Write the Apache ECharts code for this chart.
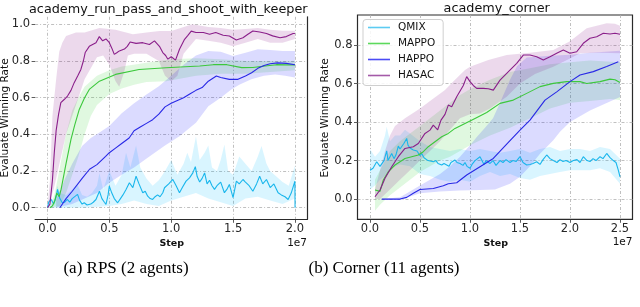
<!DOCTYPE html>
<html><head><meta charset="utf-8">
<script src="https://cdn.jsdelivr.net/npm/echarts@6/dist/echarts.min.js"></script>
<style>html,body{margin:0;padding:0;background:#fff}#c{width:640px;height:307px}</style>
</head><body><div id="c"></div>
<script>
// ---------- labels / ticks ----------
const seriesNames = ['QMIX', 'MAPPO', 'HAPPO', 'HASAC'];
const titleRps = 'academy_run_pass_and_shoot_with_keeper';
const titleCorner = 'academy_corner';
const captionRps = '(a) RPS (2 agents)';
const captionCorner = '(b) Corner (11 agents)';
const xTicksRps = [0, 0.5, 1, 1.5, 2];
const yTicksRps = [0, 0.2, 0.4, 0.6, 0.8, 1.0];
const xTicksCorner = [0, 0.5, 1, 1.5, 2, 2.5];
const yTicksCorner = [0, 0.2, 0.4, 0.6, 0.8];

// ---------- RPS (x in units of 1e7 steps) ----------
const rpsQmixMean = [[0,0],[0.01,0.03],[0.03,0.045],[0.05,0.02],[0.07,0.06],[0.081,0.1],[0.09,0.09],[0.1,0.05],[0.12,0.027],[0.14,0.03],[0.16,0.045],[0.18,0.03],[0.2,0.05],[0.216,0.055],[0.243,0.073],[0.26,0.04],[0.28,0.02],[0.297,0.027],[0.32,0.015],[0.35,0.02],[0.37,0.03],[0.392,0.045],[0.42,0.09],[0.44,0.05],[0.46,0.03],[0.473,0.018],[0.49,0.07],[0.5,0.118],[0.52,0.08],[0.54,0.05],[0.567,0.027],[0.59,0.05],[0.61,0.07],[0.635,0.1],[0.662,0.136],[0.69,0.11],[0.716,0.172],[0.74,0.13],[0.77,0.082],[0.79,0.09],[0.81,0.063],[0.83,0.05],[0.85,0.045],[0.87,0.06],[0.89,0.07],[0.91,0.06],[0.932,0.082],[0.946,0.109],[0.96,0.11],[0.98,0.13],[1.013,0.154],[1.04,0.12],[1.067,0.082],[1.09,0.11],[1.12,0.145],[1.148,0.163],[1.175,0.19],[1.195,0.224],[1.21,0.17],[1.23,0.14],[1.25,0.16],[1.27,0.19],[1.29,0.13],[1.31,0.15],[1.33,0.12],[1.35,0.1],[1.37,0.12],[1.4,0.14],[1.43,0.082],[1.45,0.1],[1.47,0.127],[1.5,0.055],[1.527,0.145],[1.55,0.13],[1.58,0.154],[1.6,0.14],[1.63,0.12],[1.66,0.09],[1.69,0.13],[1.715,0.172],[1.74,0.13],[1.77,0.154],[1.8,0.11],[1.83,0.13],[1.864,0.082],[1.89,0.07],[1.92,0.06],[1.945,0.045],[1.97,0.08],[2.0,0.145],[2.001,0.0]];
const rpsQmixUpper = [[0,0],[0.02,0.06],[0.05,0.04],[0.08,0.12],[0.1,0.08],[0.15,0.07],[0.2,0.1],[0.24,0.13],[0.28,0.07],[0.32,0.06],[0.36,0.08],[0.4,0.12],[0.42,0.19],[0.45,0.1],[0.5,0.2],[0.55,0.12],[0.6,0.18],[0.635,0.3],[0.67,0.22],[0.716,0.34],[0.75,0.22],[0.8,0.16],[0.85,0.12],[0.9,0.15],[0.95,0.2],[1.0,0.26],[1.05,0.18],[1.1,0.24],[1.13,0.3],[1.16,0.25],[1.2,0.39],[1.23,0.26],[1.27,0.3],[1.3,0.34],[1.33,0.22],[1.37,0.2],[1.4,0.26],[1.43,0.345],[1.46,0.2],[1.5,0.18],[1.55,0.28],[1.6,0.24],[1.65,0.2],[1.7,0.28],[1.73,0.336],[1.77,0.24],[1.8,0.2],[1.85,0.17],[1.9,0.14],[1.95,0.12],[2.0,0.23]];
const rpsQmixLower = [[0,0],[0.1,0],[0.3,0],[0.5,0.01],[0.6,0.02],[0.7,0.04],[0.8,0.02],[0.9,0.01],[1.0,0.04],[1.1,0.06],[1.2,0.08],[1.3,0.05],[1.4,0.03],[1.5,0.01],[1.6,0.05],[1.7,0.06],[1.8,0.04],[1.9,0.02],[2.0,0.05]];

const rpsMappoMean = [[0.02,0],[0.04,0.01],[0.06,0.04],[0.075,0.08],[0.085,0.09],[0.095,0.06],[0.11,0.1],[0.15,0.24],[0.19,0.373],[0.22,0.45],[0.257,0.536],[0.3,0.6],[0.338,0.645],[0.42,0.69],[0.55,0.727],[0.74,0.754],[0.96,0.763],[1.23,0.773],[1.34,0.78],[1.45,0.78],[1.57,0.764],[1.66,0.765],[1.76,0.773],[1.85,0.78],[2.0,0.778]];
const rpsMappoUpper = [[0.02,0],[0.06,0.08],[0.1,0.22],[0.15,0.4],[0.2,0.53],[0.25,0.6],[0.3,0.66],[0.4,0.72],[0.5,0.75],[0.6,0.77],[0.8,0.79],[1.0,0.81],[1.2,0.815],[1.4,0.81],[1.6,0.8],[1.8,0.8],[2.0,0.8]];
const rpsMappoLower = [[0.02,0],[0.1,0.01],[0.15,0.08],[0.2,0.18],[0.25,0.28],[0.3,0.4],[0.35,0.5],[0.4,0.56],[0.5,0.62],[0.6,0.65],[0.7,0.67],[0.8,0.685],[0.96,0.69],[1.2,0.72],[1.4,0.73],[1.6,0.73],[1.8,0.74],[2.0,0.75]];

const rpsHappoMean = [[0.1,0],[0.15,0.05],[0.2,0.09],[0.28,0.16],[0.34,0.21],[0.4,0.235],[0.47,0.28],[0.5,0.3],[0.55,0.325],[0.6,0.35],[0.66,0.38],[0.7,0.42],[0.75,0.44],[0.8,0.46],[0.85,0.48],[0.9,0.51],[0.95,0.55],[1.0,0.57],[1.05,0.585],[1.1,0.6],[1.15,0.62],[1.2,0.64],[1.25,0.655],[1.3,0.69],[1.365,0.718],[1.4,0.71],[1.47,0.7],[1.54,0.7],[1.6,0.718],[1.65,0.736],[1.7,0.76],[1.75,0.775],[1.8,0.785],[1.86,0.79],[1.93,0.787],[2.0,0.78]];
const rpsHappoUpper = [[0.07,0.045],[0.15,0.17],[0.2,0.24],[0.28,0.336],[0.35,0.38],[0.42,0.41],[0.5,0.445],[0.6,0.515],[0.7,0.57],[0.8,0.618],[0.9,0.663],[1.0,0.72],[1.1,0.78],[1.2,0.83],[1.3,0.855],[1.4,0.85],[1.5,0.827],[1.6,0.845],[1.7,0.864],[1.8,0.86],[1.9,0.855],[2.0,0.855]];
const rpsHappoLower = [[0.07,0],[0.2,0.02],[0.3,0.05],[0.4,0.08],[0.5,0.136],[0.6,0.18],[0.7,0.22],[0.824,0.28],[0.95,0.34],[1.067,0.39],[1.2,0.464],[1.3,0.554],[1.4,0.6],[1.486,0.645],[1.55,0.67],[1.648,0.7],[1.75,0.72],[1.84,0.727],[1.92,0.72],[2.0,0.71]];

const rpsHasacMean = [[0,0],[0.02,0.02],[0.04,0.15],[0.055,0.3],[0.07,0.42],[0.09,0.51],[0.108,0.573],[0.135,0.59],[0.162,0.609],[0.19,0.64],[0.216,0.682],[0.245,0.72],[0.27,0.754],[0.29,0.8],[0.305,0.846],[0.338,0.88],[0.365,0.89],[0.392,0.9],[0.419,0.933],[0.446,0.91],[0.473,0.92],[0.5,0.9],[0.52,0.87],[0.54,0.836],[0.56,0.845],[0.581,0.855],[0.622,0.865],[0.645,0.88],[0.668,0.904],[0.716,0.896],[0.77,0.9],[0.824,0.89],[0.865,0.91],[0.905,0.88],[0.932,0.846],[0.955,0.83],[0.973,0.81],[1.0,0.823],[1.035,0.805],[1.067,0.864],[1.108,0.918],[1.135,0.94],[1.162,0.963],[1.2,0.955],[1.26,0.955],[1.31,0.946],[1.36,0.955],[1.42,0.94],[1.47,0.936],[1.526,0.915],[1.58,0.927],[1.62,0.946],[1.66,0.964],[1.715,0.958],[1.77,0.95],[1.82,0.937],[1.88,0.927],[1.93,0.933],[1.985,0.95],[2.0,0.95]];
const rpsHasacUpper = [[0,0],[0.02,0.15],[0.04,0.5],[0.07,0.7],[0.095,0.85],[0.12,0.9],[0.15,0.936],[0.23,0.955],[0.3,0.955],[0.42,0.98],[0.55,0.97],[0.69,0.946],[0.8,0.955],[0.905,0.964],[1.0,0.964],[1.12,0.99],[1.17,1.0],[1.3,0.985],[1.4,0.98],[1.5,0.97],[1.6,0.975],[1.7,0.98],[1.8,0.97],[1.9,0.965],[2.0,0.965]];
const rpsHasacLower = [[0,0],[0.05,0.1],[0.1,0.25],[0.15,0.4],[0.2,0.5],[0.25,0.6],[0.3,0.7],[0.35,0.76],[0.4,0.82],[0.45,0.83],[0.5,0.78],[0.55,0.69],[0.58,0.66],[0.62,0.74],[0.65,0.83],[0.7,0.84],[0.8,0.84],[0.9,0.8],[0.95,0.72],[1.0,0.69],[1.05,0.72],[1.1,0.84],[1.2,0.92],[1.3,0.91],[1.4,0.9],[1.5,0.88],[1.6,0.9],[1.7,0.92],[1.8,0.9],[1.9,0.9],[2.0,0.92]];

// ---------- Corner ----------
const cornerQmixMean = [[0,0.15],[0.03,0.16],[0.067,0.194],[0.083,0.185],[0.1,0.17],[0.117,0.16],[0.14,0.2],[0.167,0.25],[0.18,0.2],[0.2,0.22],[0.217,0.237],[0.24,0.21],[0.26,0.23],[0.283,0.275],[0.3,0.26],[0.317,0.27],[0.34,0.29],[0.367,0.315],[0.38,0.28],[0.4,0.265],[0.42,0.275],[0.433,0.255],[0.45,0.245],[0.47,0.25],[0.5,0.225],[0.517,0.237],[0.54,0.215],[0.56,0.21],[0.58,0.2],[0.6,0.205],[0.633,0.194],[0.66,0.2],[0.68,0.185],[0.7,0.19],[0.717,0.177],[0.74,0.185],[0.767,0.177],[0.79,0.17],[0.81,0.19],[0.83,0.2],[0.85,0.203],[0.87,0.19],[0.9,0.185],[0.93,0.175],[0.95,0.19],[0.97,0.17],[1.0,0.16],[1.02,0.18],[1.05,0.2],[1.07,0.19],[1.1,0.22],[1.117,0.211],[1.14,0.18],[1.16,0.2],[1.2,0.185],[1.23,0.2],[1.26,0.175],[1.3,0.2],[1.33,0.19],[1.36,0.205],[1.4,0.19],[1.43,0.2],[1.46,0.195],[1.5,0.22],[1.53,0.19],[1.567,0.177],[1.6,0.18],[1.63,0.185],[1.667,0.194],[1.7,0.18],[1.73,0.205],[1.767,0.229],[1.8,0.21],[1.833,0.2],[1.87,0.19],[1.9,0.205],[1.93,0.195],[1.96,0.2],[2.0,0.19],[2.033,0.2],[2.07,0.205],[2.1,0.19],[2.133,0.22],[2.17,0.2],[2.2,0.195],[2.23,0.21],[2.26,0.2],[2.3,0.22],[2.33,0.21],[2.367,0.237],[2.4,0.215],[2.433,0.2],[2.46,0.19],[2.483,0.15],[2.5,0.116]];
const cornerQmixUpper = [[0,0.26],[0.05,0.22],[0.1,0.25],[0.15,0.33],[0.167,0.375],[0.2,0.3],[0.25,0.33],[0.3,0.33],[0.35,0.36],[0.4,0.34],[0.5,0.3],[0.6,0.27],[0.7,0.26],[0.8,0.25],[0.9,0.26],[1.0,0.25],[1.1,0.26],[1.2,0.25],[1.3,0.24],[1.4,0.25],[1.5,0.26],[1.6,0.24],[1.7,0.26],[1.8,0.27],[1.9,0.25],[2.0,0.26],[2.1,0.26],[2.2,0.25],[2.3,0.27],[2.4,0.26],[2.5,0.21]];
const cornerQmixLower = [[0,0.05],[0.05,0.07],[0.1,0.1],[0.15,0.12],[0.2,0.16],[0.3,0.18],[0.4,0.17],[0.5,0.13],[0.6,0.12],[0.7,0.1],[0.8,0.09],[0.9,0.1],[1.0,0.09],[1.1,0.12],[1.2,0.14],[1.3,0.12],[1.4,0.13],[1.5,0.11],[1.6,0.1],[1.7,0.12],[1.8,0.13],[1.9,0.14],[2.0,0.15],[2.1,0.15],[2.2,0.15],[2.3,0.16],[2.4,0.14],[2.5,0.08]];

const cornerMappoMean = [[0.05,0.047],[0.1,0.04],[0.133,0.099],[0.183,0.142],[0.25,0.177],[0.35,0.211],[0.417,0.22],[0.483,0.229],[0.533,0.246],[0.583,0.272],[0.65,0.298],[0.717,0.324],[0.783,0.341],[0.85,0.367],[0.95,0.393],[1.05,0.419],[1.167,0.45],[1.3,0.497],[1.433,0.514],[1.567,0.549],[1.7,0.584],[1.833,0.601],[1.967,0.61],[2.1,0.61],[2.167,0.6],[2.3,0.61],[2.4,0.623],[2.45,0.62],[2.5,0.605]];
const cornerMappoUpper = [[0.05,0.1],[0.1,0.15],[0.2,0.25],[0.3,0.3],[0.4,0.34],[0.5,0.38],[0.6,0.42],[0.7,0.46],[0.8,0.5],[0.9,0.54],[1.0,0.57],[1.2,0.62],[1.4,0.66],[1.6,0.68],[1.8,0.7],[2.0,0.71],[2.2,0.72],[2.5,0.71]];
const cornerMappoLower = [[0.05,-0.06],[0.1,-0.03],[0.2,0.02],[0.3,0.06],[0.4,0.1],[0.5,0.14],[0.6,0.17],[0.7,0.2],[0.8,0.22],[0.9,0.25],[1.0,0.28],[1.2,0.33],[1.4,0.37],[1.6,0.42],[1.8,0.47],[2.0,0.5],[2.2,0.51],[2.4,0.52],[2.5,0.514]];

const cornerHappoMean = [[0.117,0],[0.3,0],[0.367,0.009],[0.433,0.03],[0.5,0.05],[0.633,0.055],[0.733,0.069],[0.783,0.08],[0.867,0.085],[0.967,0.125],[1.1,0.168],[1.233,0.211],[1.367,0.286],[1.5,0.358],[1.6,0.41],[1.75,0.514],[1.867,0.557],[2.0,0.61],[2.1,0.644],[2.233,0.662],[2.367,0.688],[2.483,0.713]];
const cornerHappoUpper = [[0.117,0],[0.3,0.01],[0.5,0.07],[0.7,0.13],[0.8,0.17],[0.9,0.22],[1.0,0.28],[1.07,0.324],[1.15,0.37],[1.23,0.42],[1.3,0.5],[1.4,0.62],[1.47,0.69],[1.567,0.735],[1.8,0.745],[2.0,0.75],[2.2,0.76],[2.5,0.77]];
const cornerHappoLower = [[0.117,0],[0.3,-0.005],[0.5,0.03],[0.7,0.04],[0.9,0.045],[1.1,0.047],[1.25,0.05],[1.4,0.08],[1.5,0.116],[1.6,0.17],[1.7,0.235],[1.833,0.306],[1.9,0.35],[2.0,0.4],[2.2,0.46],[2.5,0.53]];

const cornerHasacMean = [[0.05,0.012],[0.1,0.047],[0.15,0.108],[0.217,0.168],[0.283,0.22],[0.35,0.263],[0.433,0.272],[0.483,0.289],[0.55,0.341],[0.6,0.358],[0.633,0.384],[0.677,0.36],[0.71,0.41],[0.75,0.44],[0.783,0.488],[0.817,0.48],[0.867,0.531],[0.933,0.59],[0.967,0.636],[1.0,0.61],[1.033,0.59],[1.067,0.575],[1.133,0.575],[1.183,0.573],[1.233,0.566],[1.3,0.618],[1.367,0.653],[1.467,0.705],[1.533,0.748],[1.6,0.748],[1.667,0.739],[1.733,0.722],[1.8,0.739],[1.867,0.757],[1.933,0.774],[2.0,0.757],[2.067,0.765],[2.133,0.809],[2.2,0.835],[2.267,0.843],[2.333,0.861],[2.4,0.857],[2.45,0.861],[2.5,0.856]];
const cornerHasacUpper = [[0.05,0.05],[0.1,0.15],[0.15,0.25],[0.2,0.33],[0.25,0.38],[0.35,0.42],[0.5,0.47],[0.6,0.51],[0.75,0.566],[0.85,0.62],[0.95,0.67],[1.0,0.687],[1.183,0.722],[1.367,0.748],[1.6,0.76],[1.833,0.774],[2.0,0.82],[2.167,0.887],[2.367,0.913],[2.45,0.91],[2.5,0.9]];
const cornerHasacLower = [[0.05,0],[0.1,0],[0.2,0.05],[0.3,0.1],[0.4,0.15],[0.5,0.2],[0.6,0.25],[0.7,0.3],[0.8,0.36],[0.9,0.42],[1.0,0.44],[1.1,0.445],[1.2,0.47],[1.367,0.531],[1.5,0.6],[1.65,0.65],[1.833,0.687],[2.0,0.73],[2.1,0.757],[2.3,0.76],[2.5,0.757]];

// ---------- styling ----------
const lineColors = {QMIX:'#19b6ec', MAPPO:'#3cc83c', HAPPO:'#2828e6', HASAC:'#8a1f8a'};
const legendColors = {QMIX:'#5ccbf2', MAPPO:'#5cd95c', HAPPO:'#4b4bf5', HASAC:'#a45aa8'};
const bandColors = {QMIX:'rgba(0,191,255,0.15)', MAPPO:'rgba(50,205,50,0.15)', HAPPO:'rgba(0,0,255,0.14)', HASAC:'rgba(128,0,128,0.15)'};
const FONT = 'DejaVu Sans';

function band(name, xi, yi, upper, lower) {
  return {
    type: 'custom', xAxisIndex: xi, yAxisIndex: yi, silent: true, z: 1,
    data: [0],
    renderItem: function (params, api) {
      const pts = [];
      for (let i = 0; i < upper.length; i++) pts.push(api.coord(upper[i]));
      for (let i = lower.length - 1; i >= 0; i--) pts.push(api.coord(lower[i]));
      return {type: 'polygon', shape: {points: pts}, style: {fill: bandColors[name], stroke: null}};
    }
  };
}
function line(name, xi, yi, data) {
  return {
    name: name, type: 'line', xAxisIndex: xi, yAxisIndex: yi, data: data,
    showSymbol: false, symbol: 'none', z: 3, clip: false,
    lineStyle: {color: lineColors[name], width: 1.1},
    itemStyle: {color: lineColors[name]}
  };
}
const fmt = v => Number(v).toFixed(1);
const splitStyle = {show: true, lineStyle: {color: '#b0b0b0', width: 0.8, type: [3, 2, 1, 2]}};
function xAx(gi, min, max, ticks, showLine) {
  return {
    type: 'value', gridIndex: gi, min: min, max: max,
    axisLine: {show: showLine, onZero: false, lineStyle: {color: '#2a2a2a', width: 1.2}},
    axisTick: {show: true, customValues: ticks, length: 3.5, lineStyle: {color: '#333', width: 0.8}},
    axisLabel: {customValues: ticks, formatter: fmt, fontFamily: FONT, fontSize: 11.5, color: '#262626', margin: 4},
    splitLine: splitStyle
  };
}
function yAx(gi, min, max, ticks) {
  return {
    type: 'value', gridIndex: gi, min: min, max: max,
    axisLine: {show: false, onZero: false},
    axisTick: {show: true, customValues: ticks, length: 3.5, lineStyle: {color: '#333', width: 0.8}},
    axisLabel: {customValues: ticks, formatter: fmt, fontFamily: FONT, fontSize: 11.5, color: '#262626', margin: 5},
    splitLine: splitStyle
  };
}
function txt(x, y, text, size, opts) {
  return Object.assign({type: 'text', x: x, y: y, style: Object.assign({
    text: text, fontFamily: FONT, fontSize: size, fill: '#111', align: 'center', verticalAlign: 'middle'
  }, (opts && opts.style) || {})}, (opts && opts.extra) || {});
}

const chart = echarts.init(document.getElementById('c'), null, {renderer: 'canvas'});
const option = {
  animation: false,
  backgroundColor: '#fff',
  grid: [
    {left: 35.1, top: 16.8, width: 272.2, height: 202.5},
    {left: 357.5, top: 15, width: 275, height: 204.3, show: true, borderColor: '#2a2a2a', borderWidth: 1.2, backgroundColor: 'transparent'}
  ],
  xAxis: [
    xAx(0, -0.1, 2.1, xTicksRps, true),
    xAx(1, -0.125, 2.625, xTicksCorner, false)
  ],
  yAxis: [
    yAx(0, -0.063, 1.041, yTicksRps),
    yAx(1, -0.105, 0.956, yTicksCorner),
    {type: 'value', gridIndex: 0, position: 'right', min: -0.063, max: 1.041,
     axisLine: {show: true, onZero: false, lineStyle: {color: '#2a2a2a', width: 1.2}},
     axisTick: {show: false}, axisLabel: {show: false}, splitLine: {show: false}}
  ],
  legend: {
    data: seriesNames.map(n => ({name: n, itemStyle: {color: legendColors[n]}})),
    orient: 'vertical', left: 363, top: 19.5,
    icon: 'rect', itemWidth: 22, itemHeight: 1.6, itemGap: 0,
    textStyle: {fontFamily: FONT, fontSize: 10.5, color: '#111', lineHeight: 16, padding: [0, 0, 0, 3]},
    backgroundColor: 'rgba(255,255,255,0.85)', borderColor: '#cfcfcf', borderWidth: 1, borderRadius: 3,
    padding: [0, 8, 2, 5], selectedMode: false
  },
  series: [
    band('QMIX', 0, 0, rpsQmixUpper, rpsQmixLower),
    band('MAPPO', 0, 0, rpsMappoUpper, rpsMappoLower),
    band('HAPPO', 0, 0, rpsHappoUpper, rpsHappoLower),
    band('HASAC', 0, 0, rpsHasacUpper, rpsHasacLower),
    line('QMIX', 0, 0, rpsQmixMean),
    line('MAPPO', 0, 0, rpsMappoMean),
    line('HAPPO', 0, 0, rpsHappoMean),
    line('HASAC', 0, 0, rpsHasacMean),
    band('QMIX', 1, 1, cornerQmixUpper, cornerQmixLower),
    band('MAPPO', 1, 1, cornerMappoUpper, cornerMappoLower),
    band('HAPPO', 1, 1, cornerHappoUpper, cornerHappoLower),
    band('HASAC', 1, 1, cornerHasacUpper, cornerHasacLower),
    line('QMIX', 1, 1, cornerQmixMean),
    line('MAPPO', 1, 1, cornerMappoMean),
    line('HAPPO', 1, 1, cornerHappoMean),
    line('HASAC', 1, 1, cornerHasacMean)
  ],
  graphic: [
    txt(168.3, 10, titleRps, 12.8),
    txt(496.7, 8.5, titleCorner, 12.8),
    txt(5, 118, 'Evaluate Winning Rate', 10.5, {extra: {rotation: Math.PI / 2}}),
    txt(325, 118, 'Evaluate Winning Rate', 10.5, {extra: {rotation: Math.PI / 2}}),
    txt(171.7, 243.5, 'Step', 9.5, {style: {fontWeight: 'bold'}}),
    txt(495.8, 243.5, 'Step', 9.5, {style: {fontWeight: 'bold'}}),
    txt(307, 243, '1e7', 10.5, {style: {align: 'right'}}),
    txt(632.5, 242, '1e7', 10.5, {style: {align: 'right'}}),
    txt(126, 268.5, captionRps, 17, {style: {fontFamily: 'Liberation Serif', fill: '#000'}}),
    txt(384, 268.5, captionCorner, 17, {style: {fontFamily: 'Liberation Serif', fill: '#000'}})
  ]
};
chart.setOption(option);
</script>
</body></html>
